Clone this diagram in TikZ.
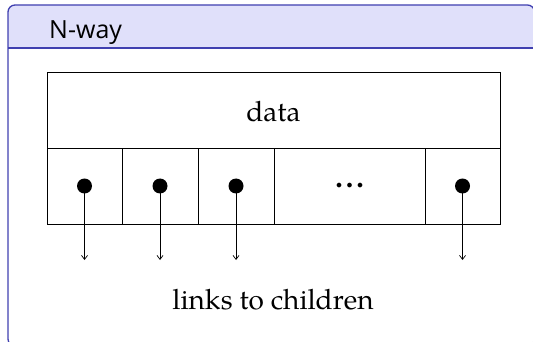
\documentclass[tikz,border=0pt]{standalone}
\usepackage{fontspec}
\setmainfont{TeX Gyre Pagella}
\newfontfamily\titlefont{Open Sans}
\usetikzlibrary{arrows.meta}
\definecolor{frameblue}{RGB}{64,64,176}
\definecolor{titleback}{RGB}{224,224,250}
\begin{document}
\begin{tikzpicture}[x=1pt,y=-1pt,
  cell/.style={draw=black,line width=0.9pt,minimum height=76pt,inner sep=0pt,anchor=center},
  dotnode/.style={circle,fill=black,minimum size=15pt,inner sep=0pt},
  link/.style={-{Straight Barb[length=4pt,width=6pt]},line width=0.7pt},
  bigtext/.style={font=\fontsize{28}{34}\selectfont,inner sep=0pt}]
\useasboundingbox (0,0) rectangle (533,342);
\begin{scope}
  \clip (0,0) rectangle (533,342);
  \fill[white,rounded corners=7pt] (8,5) rectangle (534.5,346);
  \begin{scope}
    \clip (0,0) rectangle (540,48);
    \fill[titleback,rounded corners=7pt] (8,5) rectangle (534.5,346);
  \end{scope}
  \draw[frameblue,line width=1.2pt] (8,48) -- (534.5,48);
  \draw[frameblue,line width=1.3pt,rounded corners=7pt] (8,5) rectangle (534.5,346);
\end{scope}
\node[anchor=base west,inner sep=0pt,font=\titlefont\fontsize{25}{30}\selectfont] (title) at (49,38.5) {N-way};
% data box
\node[cell,minimum width=453pt] (data) at (273.5,110) {};
\node[bigtext] (datalabel) at (273.5,112) {data};
% cells
\node[cell,minimum width=75pt] (c1) at (84.5,186) {};
\node[cell,minimum width=76pt] (c2) at (160,186) {};
\node[cell,minimum width=76pt] (c3) at (236,186) {};
\node[cell,minimum width=151pt] (c4) at (349.5,186) {};
\node[cell,minimum width=75pt] (c5) at (462.5,186) {};
\node[dotnode] (d1) at (c1) {};
\node[dotnode] (d2) at (c2) {};
\node[dotnode] (d3) at (c3) {};
\node[dotnode] (d5) at (c5) {};
\node[bigtext,font=\fontsize{30}{34}\selectfont\bfseries] (dots) at (349.5,186) {.\hspace{0.1em}.\hspace{0.1em}.};
\coordinate (e1) at (84.5,260);
\coordinate (e2) at (160,260);
\coordinate (e3) at (236,260);
\coordinate (e5) at (462.5,260);
\draw[link] (d1.center) -- (e1);
\draw[link] (d2.center) -- (e2);
\draw[link] (d3.center) -- (e3);
\draw[link] (d5.center) -- (e5);
\node[bigtext] (links) at (273,300) {links to children};
\end{tikzpicture}
\end{document}
